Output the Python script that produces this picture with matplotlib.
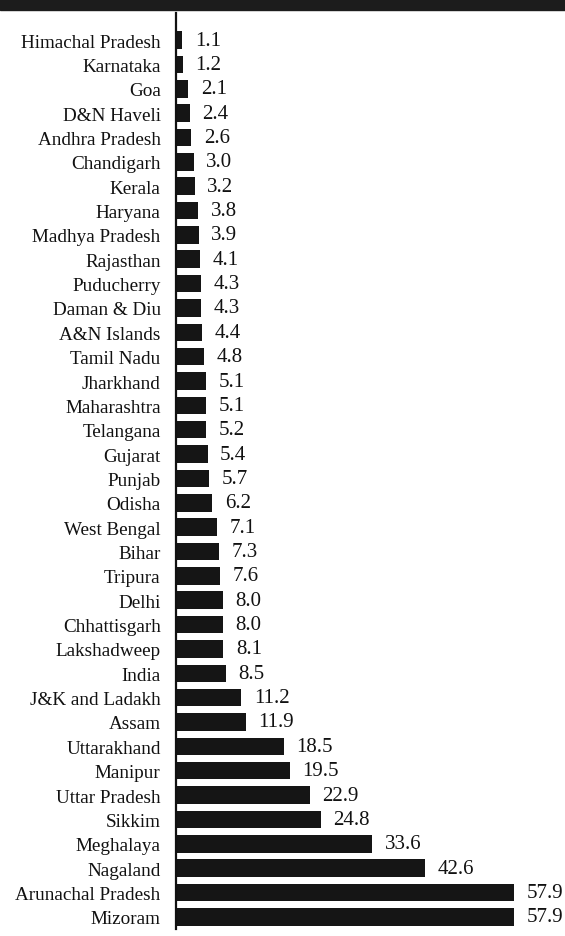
import matplotlib.pyplot as plt
import matplotlib.patches as patches

# ── Data ─────────────────────────────────────────────────────────────────────
states = [
    "Himachal Pradesh", "Karnataka", "Goa", "D&N Haveli", "Andhra Pradesh",
    "Chandigarh", "Kerala", "Haryana", "Madhya Pradesh", "Rajasthan",
    "Puducherry", "Daman & Diu", "A&N Islands", "Tamil Nadu", "Jharkhand",
    "Maharashtra", "Telangana", "Gujarat", "Punjab", "Odisha",
    "West Bengal", "Bihar", "Tripura", "Delhi", "Chhattisgarh",
    "Lakshadweep", "India", "J&K and Ladakh", "Assam", "Uttarakhand",
    "Manipur", "Uttar Pradesh", "Sikkim", "Meghalaya", "Nagaland",
    "Arunachal Pradesh", "Mizoram",
]
values = [
    1.1, 1.2, 2.1, 2.4, 2.6,
    3.0, 3.2, 3.8, 3.9, 4.1,
    4.3, 4.3, 4.4, 4.8, 5.1,
    5.1, 5.2, 5.4, 5.7, 6.2,
    7.1, 7.3, 7.6, 8.0, 8.0,
    8.1, 8.5, 11.2, 11.9, 18.5,
    19.5, 22.9, 24.8, 33.6, 42.6,
    57.9, 57.9,
]

plt.rcParams['font.family'] = ['Liberation Serif', 'DejaVu Serif']

fig = plt.figure(figsize=(5.65, 9.37), dpi=100)

# dark header band at the very top
fig.patches.append(patches.Rectangle((0, 1 - 11 / 937), 1, 11 / 937,
                                     transform=fig.transFigure,
                                     color='#1c1c1c', zorder=0))

ax = fig.add_axes([176 / 565, 7 / 937, 1 - 176 / 565, 916 / 937])
ypos = range(len(states))
ax.barh(ypos, values, height=0.72, color='#151515')

for y, v in zip(ypos, values):
    ax.annotate(f"{v:.1f}", (v, y), xytext=(9, 0), textcoords='offset points',
                ha='left', va='center', fontsize=15, color='#111111')

ax.set_xlim(0, 66.6)
ax.set_ylim(36.5, -1.11)
ax.set_yticks(list(ypos))
ax.set_yticklabels(states, fontsize=13.8, color='#111111')
ax.tick_params(axis='y', length=0, pad=11)
ax.set_xticks([])
for side in ['top', 'right', 'bottom']:
    ax.spines[side].set_visible(False)
ax.spines['left'].set_linewidth(1.6)
ax.spines['left'].set_color('#111111')

fig.savefig("out.png", dpi=100)
